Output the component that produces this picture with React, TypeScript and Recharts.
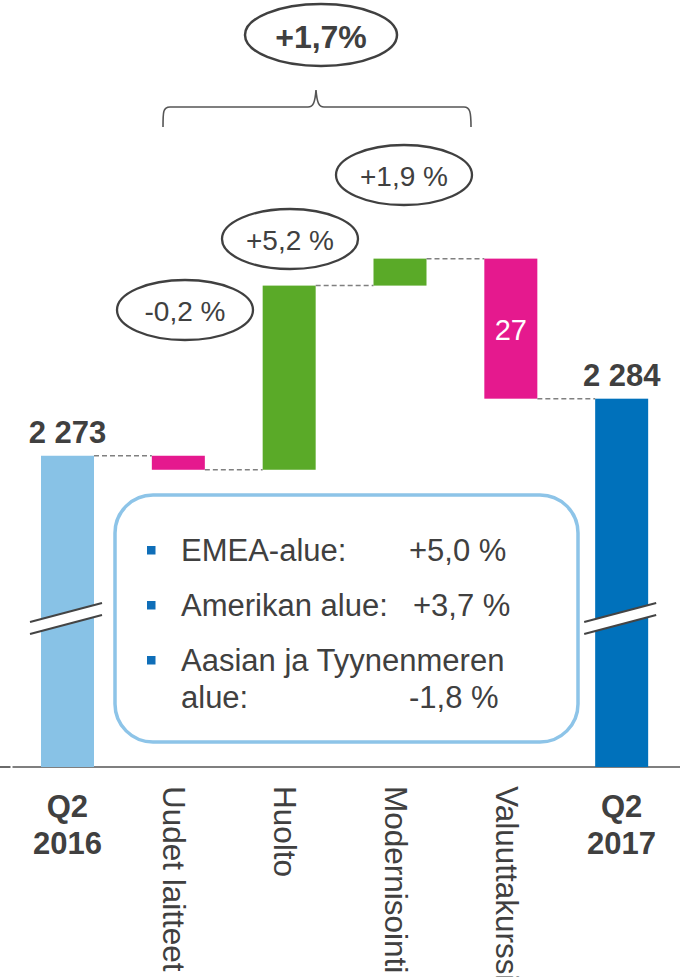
import React from 'react';
import { BarChart, Bar, XAxis, YAxis, Customized } from 'recharts';

// ---- data ----
const categories = ['Q2 2016', 'Uudet laitteet', 'Huolto', 'Modernisointi', 'Valuuttakurssit', 'Q2 2017'];
// first and last are totals, the rest are changes
const changes = [2273, -2.7, 35.5, 5.2, -27, 2284];
const barLabels = ['2 273', '', '', '', '27', '2 284'];
const growthLabels = ['', '-0,2 %', '+5,2 %', '+1,9 %', '', ''];
const totalGrowth = '+1,7%';
const regionNames = ['EMEA-alue:', 'Amerikan alue:', 'Aasian ja Tyynenmeren'];
const regionNameCont = ['', '', 'alue:'];
const regionValues = ['+5,0 %', '+3,7 %', '-1,8 %'];
const yDomain = [2213, 2357];

// ---- layout / style ----
const W = 682;
const H = 977;
const M = { top: 20, right: 5, left: 12, bottom: 0 };
const X_AXIS_H = 210;
const PLOT_BOTTOM = H - M.bottom - X_AXIS_H;
const BAND = (W - M.left - M.right) / categories.length;
const BAR_SIZE = 53;
const FONT = '"Liberation Sans", Arial, Helvetica, sans-serif';
const TEXT = '#404040';
const COLORS: Record<string, string> = {
  start: '#88C2E6',
  end: '#0071BB',
  up: '#5AAA28',
  down: '#E5198E',
};

type Row = { name: string; range: number | [number, number]; kind: string; delta: number };

let running = 0;
const data: Row[] = categories.map((name, i) => {
  const isTotal = i === 0 || i === categories.length - 1;
  if (isTotal) {
    running = changes[i];
    return { name, range: changes[i], kind: i === 0 ? 'start' : 'end', delta: 0 };
  }
  const start = running;
  const end = running + changes[i];
  running = end;
  return {
    name,
    range: [Math.min(start, end), Math.max(start, end)] as [number, number],
    kind: changes[i] >= 0 ? 'up' : 'down',
    delta: changes[i],
  };
});

const BREAK_Y_LEFT = 622;
const BREAK_Y_RIGHT = 603;
const BREAK_GAP = 12;

function WaterfallShape(props: any) {
  const { x, y, width, height, payload } = props;
  const idx = categories.indexOf(payload.name);
  const kind = payload.kind;
  const fill = COLORS[kind];
  const endY = kind === 'down' ? y + height : y;
  const gap = BAND - width;
  const isTotal = kind === 'start' || kind === 'end';
  const lx = x - 11;
  const rx = x + width + 8;
  const label = barLabels[idx];
  return (
    <g>
      <rect x={x} y={y} width={width} height={height} fill={fill} />
      {idx < categories.length - 1 && (
        <line
          x1={x + width}
          x2={x + width + gap}
          y1={endY}
          y2={endY}
          stroke="#808080"
          strokeWidth={1.5}
          strokeDasharray="5 3"
        />
      )}
      {isTotal && (
        <g>
          <polygon
            points={`${lx},${BREAK_Y_LEFT} ${rx},${BREAK_Y_RIGHT} ${rx},${BREAK_Y_RIGHT + BREAK_GAP} ${lx},${BREAK_Y_LEFT + BREAK_GAP}`}
            fill="#fff"
          />
          <line x1={lx} y1={BREAK_Y_LEFT} x2={rx} y2={BREAK_Y_RIGHT} stroke="#444" strokeWidth={2} />
          <line
            x1={lx}
            y1={BREAK_Y_LEFT + BREAK_GAP}
            x2={rx}
            y2={BREAK_Y_RIGHT + BREAK_GAP}
            stroke="#444"
            strokeWidth={2}
          />
        </g>
      )}
      {label && isTotal && (
        <text
          x={x + width / 2}
          y={y - 13}
          textAnchor="middle"
          fontFamily={FONT}
          fontWeight="bold"
          fontSize={31}
          fill={TEXT}
        >
          {label}
        </text>
      )}
      {label && !isTotal && (
        <text
          x={x + width / 2}
          y={y + height / 2 + 11}
          textAnchor="middle"
          fontFamily={FONT}
          fontSize={29}
          fill="#fff"
        >
          {label}
        </text>
      )}
    </g>
  );
}

function CategoryTick(props: any) {
  const { x, payload } = props;
  const v: string = payload.value;
  if (v.startsWith('Q2')) {
    const [a, b] = v.split(' ');
    return (
      <text textAnchor="middle" fontFamily={FONT} fontWeight="bold" fontSize={31} fill={TEXT}>
        <tspan x={x} y={PLOT_BOTTOM + 50}>
          {a}
        </tspan>
        <tspan x={x} y={PLOT_BOTTOM + 87}>
          {b}
        </tspan>
      </text>
    );
  }
  return (
    <text
      transform={`translate(${x - 15}, ${PLOT_BOTTOM + 19}) rotate(90)`}
      fontFamily={FONT}
      fontSize={31.5}
      fill={TEXT}
    >
      {v}
    </text>
  );
}

const ellipsePos: Record<number, { cx: number; cy: number }> = {
  1: { cx: 185, cy: 310 },
  2: { cx: 290, cy: 239 },
  3: { cx: 404, cy: 175 },
};

function Overlay() {
  return (
    <g fontFamily={FONT}>
      {/* stub of the category axis at far left */}
      <line x1={0} x2={10.5} y1={PLOT_BOTTOM} y2={PLOT_BOTTOM} stroke="#444" strokeWidth={1.6} />
      <line x1={M.left + 0.5} x2={680} y1={PLOT_BOTTOM} y2={PLOT_BOTTOM} stroke="#555" strokeWidth={1.6} />

      {/* total growth ellipse and brace */}
      <ellipse cx={321} cy={35} rx={76} ry={31} fill="#fff" stroke={TEXT} strokeWidth={2.5} />
      <text x={321} y={48} textAnchor="middle" fontWeight="bold" fontSize={32} fill={TEXT}>
        {totalGrowth}
      </text>
      <path
        d="M163,127 C163,112 163,107 170,107 L308,107 C313,107 315,103 316,90 C317,103 319,107 324,107 L464,107 C470,107 471,112 471,127"
        fill="none"
        stroke="#555"
        strokeWidth={1.6}
      />

      {growthLabels.map((t, i) =>
        t ? (
          <g key={i}>
            <ellipse
              cx={ellipsePos[i].cx}
              cy={ellipsePos[i].cy}
              rx={68}
              ry={30}
              fill="#fff"
              stroke={TEXT}
              strokeWidth={2.3}
            />
            <text
              x={ellipsePos[i].cx}
              y={ellipsePos[i].cy + 11}
              textAnchor="middle"
              fontSize={28}
              fill={TEXT}
            >
              {t}
            </text>
          </g>
        ) : null
      )}

      {/* region box */}
      <rect x={115} y={495} width={463} height={247} rx={38} ry={38} fill="#fff" stroke="#8DC4E8" strokeWidth={3.5} />
      {regionNames.map((n, i) => {
        const base = [561, 616, 671][i];
        return (
          <g key={n}>
            <rect x={147} y={base - 15} width={8.5} height={8.5} fill="#0F6EB8" />
            <text x={181} y={base} fontSize={31} fill={TEXT}>
              {n}
            </text>
            {regionNameCont[i] ? (
              <text x={181} y={base + 37} fontSize={31} fill={TEXT}>
                {regionNameCont[i]}
              </text>
            ) : null}
            <text x={i === 1 ? 413 : 409} y={regionNameCont[i] ? base + 37 : base} fontSize={31} fill={TEXT}>
              {regionValues[i]}
            </text>
          </g>
        );
      })}
    </g>
  );
}

export default function App() {
  return (
    <div style={{ position: 'absolute', left: 0, top: 0, width: W, height: H, background: '#fff' }}>
      <BarChart width={W} height={H} data={data} margin={M} barSize={BAR_SIZE} style={{ fontFamily: FONT }}>
        <XAxis
          dataKey="name"
          height={X_AXIS_H}
          interval={0}
          tickLine={false}
          axisLine={false}
          tick={<CategoryTick />}
        />
        <YAxis hide type="number" domain={yDomain} allowDataOverflow />
        <Customized component={Overlay} />
        <Bar dataKey="range" isAnimationActive={false} shape={<WaterfallShape />} />
      </BarChart>
    </div>
  );
}
